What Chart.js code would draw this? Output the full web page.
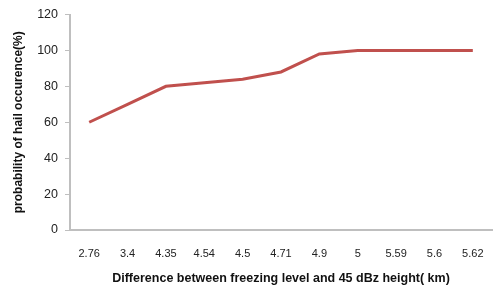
<!DOCTYPE html>
<html>
<head>
<meta charset="utf-8">
<script src="https://cdn.jsdelivr.net/npm/chart.js@4"></script>
<style>
  html, body { margin: 0; padding: 0; background: #fff; }
  #wrap { width: 500px; height: 292px; }
</style>
</head>
<body>
<div id="wrap"><canvas id="chart"></canvas></div>
<script>
// Heights difference (km) used as categories
const heightDiff = ['2.76', '3.4', '4.35', '4.54', '4.5', '4.71', '4.9', '5', '5.59', '5.6', '5.62'];
// Probability of hail occurrence (%)
const hailProb = [60, 70, 80, 82, 84, 88, 98, 100, 100, 100, 100];
const yTicks = [0, 20, 40, 60, 80, 100, 120];

const axisGray = '#bfbfbf';
const font = 'Liberation Sans, Arial, sans-serif';

const canvas = document.getElementById('chart');

new Chart(canvas, {
  type: 'line',
  data: {
    labels: heightDiff,
    datasets: [
      {
        label: 'probability',
        data: hailProb,
        borderColor: '#c0504d',
        borderWidth: 3,
        pointRadius: 0,
        tension: 0,
        fill: false
      }
    ]
  },
  options: {
    responsive: true,
    maintainAspectRatio: false,
    animation: false,
    layout: { padding: { top: 8, right: 8, left: 0, bottom: 0 } },
    plugins: {
      legend: { display: false },
      tooltip: { enabled: false }
    },
    scales: {
      x: {
        type: 'category',
        offset: true,
        grid: { display: false },
        border: { display: true, color: axisGray, width: 2 },
        ticks: { color: '#222', font: { family: font, size: 11 }, padding: 9, maxRotation: 0, autoSkip: false },
        title: {
          display: true,
          text: 'Difference between freezing level and 45 dBz height( km)',
          color: '#111',
          font: { family: font, size: 12.5, weight: 'bold' },
          padding: { top: 6, bottom: 6 }
        },
        afterFit: scale => { scale.height = 62; }
      },
      y: {
        min: 0,
        max: 120,
        afterBuildTicks: scale => { scale.ticks = yTicks.map(v => ({ value: v })); },
        grid: { drawOnChartArea: false, drawTicks: true, tickLength: 5, color: axisGray },
        border: { display: true, color: axisGray, width: 2 },
        ticks: { color: '#222', font: { family: font, size: 12.5 }, padding: 7 },
        title: {
          display: true,
          text: 'probability of hail occurence(%)',
          color: '#111',
          font: { family: font, size: 12, weight: 'bold' },
          padding: { top: 11, bottom: 4 }
        },
        afterFit: scale => { scale.width = 70; }
      }
    }
  }
});
</script>
</body>
</html>
